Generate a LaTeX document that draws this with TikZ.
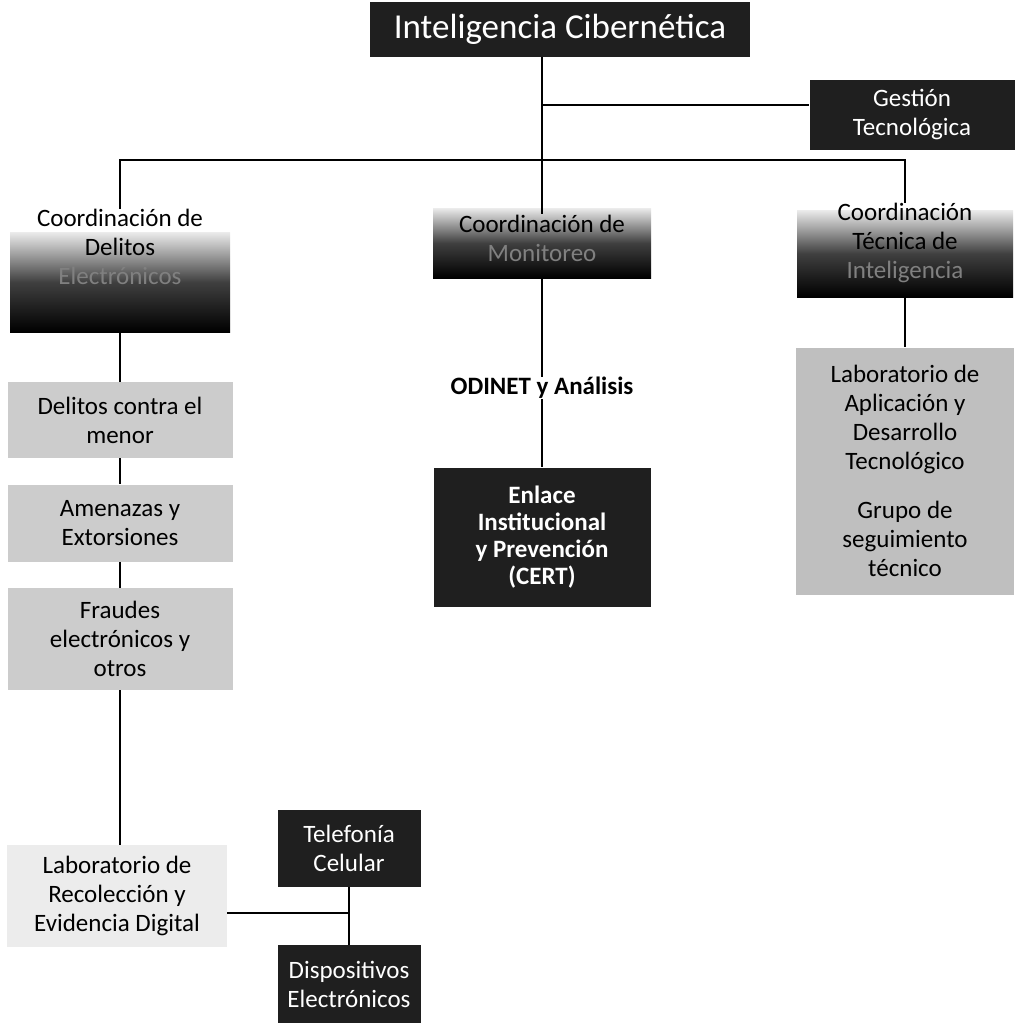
\documentclass[tikz,border=0pt]{standalone}
\usepackage{fontspec}
\setmainfont{Carlito}
\usetikzlibrary{positioning}
\newcommand{\dimtxt}[1]{\textcolor{gray}{#1}}
\begin{document}
\begin{tikzpicture}[x=0.5pt,y=-0.5pt]
\tikzset{
  every node/.style={font=\fontsize{12.5}{14.5}\selectfont, align=center, inner sep=0pt},
  darkbox/.style={fill=black!88, text=white},
  greybox/.style={fill=gray!40},
  coordbox/.style={top color=gray!15, bottom color=black, middle color=black!75},
  conn/.style={line width=1pt},
}
\useasboundingbox (0,0) rectangle (1015,1023);

\node[darkbox, minimum width=190pt, minimum height=27.5pt, font=\fontsize{17.5}{20}\selectfont] (title) at (560,29.5) {Inteligencia Cibernética};
\node[darkbox, minimum width=102.5pt, minimum height=35pt] (gestion) at (912,115) {Gestión\\Tecnológica};

% coordinaciones
\node[coordbox, minimum width=110pt, minimum height=50pt] (cdel) at (120,282) {};
\node (cdeltxt) at (120,247) {Coordinación de\\Delitos\\\dimtxt{Electrónicos}};
\node[coordbox, minimum width=109pt, minimum height=35pt] (cmon) at (542,243) {};
\node (cmontxt) at (542,238) {Coordinación de\\\dimtxt{Monitoreo}};
\node[coordbox, minimum width=108pt, minimum height=43.5pt] (ctec) at (905,253.5) {};
\node (ctectxt) at (905,243) {Coordinación\\Técnica de\\\dimtxt{Inteligencia}};

% columna izquierda
\node[greybox, minimum width=112.5pt, minimum height=38pt] (delm) at (120,420) {Delitos contra el\\menor};
\node[greybox, minimum width=112.5pt, minimum height=38.5pt] (amen) at (120,523) {Amenazas y\\Extorsiones};
\node[greybox, minimum width=112.5pt, minimum height=51pt] (fraud) at (120,639) {Fraudes\\electrónicos y\\otros};
\node[fill=gray!15, minimum width=110pt, minimum height=51pt] (labrec) at (117,896) {Laboratorio de\\Recolección y\\Evidencia Digital};
\node[darkbox, minimum width=71.5pt, minimum height=38.5pt] (telcel) at (349,848) {Telefonía\\Celular};
\node[darkbox, minimum width=71.5pt, minimum height=39pt] (dispel) at (349,984) {Dispositivos\\Electrónicos};

% columna central
\node[font=\fontsize{12.5}{14.5}\selectfont\bfseries] (odinet) at (542,388) {ODINET y Análisis};
\node[darkbox, font=\fontsize{12.5}{13.5}\selectfont\bfseries, minimum width=108.5pt, minimum height=69.5pt] (enlace) at (542,537) {Enlace\\Institucional\\y Prevención\\(CERT)};

% columna derecha
\node[fill=gray!50, minimum width=109pt, minimum height=123.5pt] (labapl) at (905,471) {Laboratorio de\\Aplicación y\\Desarrollo\\Tecnológico\\[10pt]Grupo de\\seguimiento\\técnico};

\coordinate (trunk) at (542,160);
\coordinate (gbranch) at (542,105);
\coordinate (jn) at (349,913);

\draw[conn] (title.south -| trunk) -- (cmontxt.north);
\draw[conn] (gbranch) -- (gbranch -| gestion.west);
\draw[conn] (cdeltxt.north) |- (trunk) -| (ctectxt.north);
\foreach \a/\b in {cdel/delm, delm/amen, amen/fraud}{
    \draw[conn] (\a.south) -- (\b.north);
};
\draw[conn] (fraud.south) -- (fraud.south |- labrec.north);
\draw[conn] (labrec.east |- jn) -- (jn);
\draw[conn] (telcel.south) -- (dispel.north);
\draw[conn] (cmon.south) -- (odinet.north);
\draw[conn] (odinet.south) -- (enlace.north);
\draw[conn] (ctec.south) -- (labapl.north);

\end{tikzpicture}
\end{document}
